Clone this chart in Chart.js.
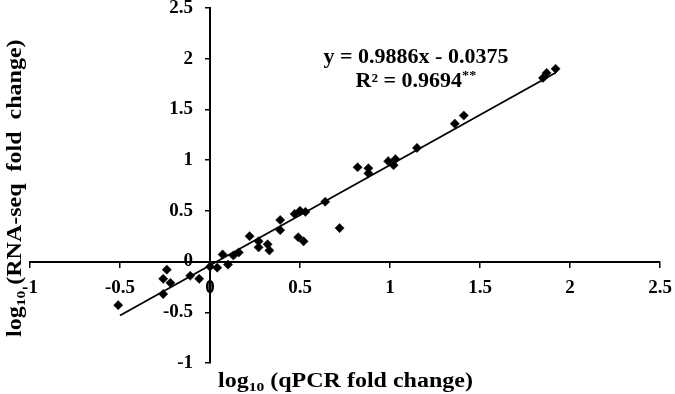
<!DOCTYPE html>
<html lang="en">
<head>
    <meta charset="UTF-8">
    <title>qPCR vs RNA-seq</title>
    <script src="https://cdn.jsdelivr.net/npm/chart.js"></script>
    <style>
        body { margin: 0; background: #fff; }
        #wrap { width: 675px; height: 394px; }
    </style>
</head>
<body>
    <div id="wrap"><canvas id="scatterChart" width="675" height="394"></canvas></div>
    <script>
        // values
        const qpcrX = [-0.51, -0.24, -0.26, -0.22, -0.26, -0.11, -0.06, 0.00, 0.04, 0.10,
                       0.07, 0.13, 0.16, 0.22, 0.27, 0.27, 0.32, 0.33, 0.39, 0.39,
                       0.47, 0.50, 0.53, 0.49, 0.52, 0.64, 0.72, 0.82, 0.88, 0.88,
                       0.99, 1.03, 1.02, 1.15, 1.36, 1.41, 1.85, 1.87, 1.92];
        const rnaseqY = [-0.43, -0.08, -0.17, -0.21, -0.32, -0.14, -0.17, -0.05, -0.06, -0.03,
                         0.07, 0.06, 0.09, 0.25, 0.20, 0.14, 0.17, 0.11, 0.41, 0.31,
                         0.47, 0.50, 0.49, 0.24, 0.20, 0.59, 0.33, 0.93, 0.92, 0.87,
                         0.99, 1.01, 0.95, 1.12, 1.36, 1.44, 1.81, 1.86, 1.90];
        // trendline end points
        const trendX = [-0.5, 1.92];
        const trendY = [-0.532, 1.861];

        const xTickLabels = ['-1', '-0.5', '0', '0.5', '1', '1.5', '2', '2.5'];
        const yTickLabels = ['-1', '-0.5', '0', '0.5', '1', '1.5', '2', '2.5'];

        const FONT = '"Liberation Serif", "Times New Roman", serif';

        // draws a run of text pieces (size, vertical shift) stretched horizontally
        function drawParts(ctx, parts, stretch, align) {
            let total = 0;
            parts.forEach(p => {
                ctx.font = 'bold ' + p.size + 'px ' + FONT;
                total += ctx.measureText(p.text).width;
            });
            ctx.scale(stretch, 1);
            let x = align === 'center' ? -total / 2 : 0;
            parts.forEach(p => {
                ctx.font = 'bold ' + p.size + 'px ' + FONT;
                ctx.fillText(p.text, x, p.dy || 0);
                x += ctx.measureText(p.text).width;
            });
        }

        const labelsPlugin = {
            id: 'labelsPlugin',
            beforeDraw(chart) {
                // y axis sits at x = 0, move its tick labels clear of the line
                const items = chart.scales.y.getLabelItems(chart.chartArea);
                items.forEach(item => {
                    if (!item._moved) {
                        item.options.translation[0] -= 17;
                        item._moved = true;
                    }
                });
            },
            afterDraw(chart) {
                const ctx = chart.ctx;
                ctx.fillStyle = '#000';
                ctx.textBaseline = 'alphabetic';

                // x axis title
                ctx.save();
                ctx.translate(218, 387);
                drawParts(ctx, [
                    {text: 'log', size: 20},
                    {text: '10', size: 13, dy: 4},
                    {text: ' (qPCR fold change)', size: 20}
                ], 1.2, 'left');
                ctx.restore();

                // y axis title
                ctx.save();
                ctx.translate(21, 337);
                ctx.rotate(-Math.PI / 2);
                drawParts(ctx, [
                    {text: 'log', size: 20},
                    {text: '10', size: 13, dy: 4},
                    {text: ' (RNA-seq  fold  change)', size: 20}
                ], 1.2, 'left');
                ctx.restore();

                // regression equation
                ctx.save();
                ctx.translate(416, 63);
                drawParts(ctx, [{text: 'y = 0.9886x - 0.0375', size: 20}], 1.1, 'center');
                ctx.restore();

                ctx.save();
                ctx.translate(416, 87);
                drawParts(ctx, [
                    {text: 'R² = 0.9694', size: 20},
                    {text: '**', size: 13, dy: -8}
                ], 1.1, 'center');
                ctx.restore();
            }
        };

        function noPadding(scale) {
            scale.paddingTop = 0;
            scale.paddingBottom = 0;
            scale.paddingLeft = 0;
            scale.paddingRight = 0;
        }

        const ctx = document.getElementById('scatterChart').getContext('2d');
        new Chart(ctx, {
            type: 'scatter',
            data: {
                datasets: [{
                    label: 'genes',
                    data: qpcrX.map((x, i) => ({x: x, y: rnaseqY[i]})),
                    pointStyle: 'rectRot',
                    pointRadius: 4.6,
                    pointBorderWidth: 0.5,
                    backgroundColor: '#000',
                    borderColor: '#000'
                }, {
                    type: 'line',
                    label: 'trend',
                    data: trendX.map((x, i) => ({x: x, y: trendY[i]})),
                    borderColor: '#000',
                    borderWidth: 1.8,
                    pointRadius: 0,
                    fill: false
                }]
            },
            options: {
                responsive: false,
                animation: false,
                layout: {
                    padding: {left: 30, right: 15, top: 8, bottom: 31}
                },
                scales: {
                    x: {
                        type: 'linear',
                        position: {y: 0},
                        min: -1,
                        max: 2.5,
                        afterFit: noPadding,
                        ticks: {
                            stepSize: 0.5,
                            color: '#000',
                            padding: 10,
                            maxRotation: 0,
                            autoSkip: false,
                            font: {family: FONT, size: 19, weight: 'bold'},
                            callback: function(value, index) {
                                return xTickLabels[index];
                            }
                        },
                        grid: {
                            drawOnChartArea: false,
                            drawTicks: true,
                            tickLength: 5,
                            color: '#000',
                            lineWidth: 1.5
                        },
                        border: {display: true, color: '#000', width: 2}
                    },
                    y: {
                        type: 'linear',
                        position: {x: 0},
                        min: -1,
                        max: 2.5,
                        afterFit: noPadding,
                        ticks: {
                            stepSize: 0.5,
                            color: '#000',
                            padding: 12,
                            autoSkip: false,
                            font: {family: FONT, size: 19, weight: 'bold'},
                            callback: function(value, index) {
                                return yTickLabels[index];
                            }
                        },
                        grid: {
                            drawOnChartArea: false,
                            drawTicks: true,
                            tickLength: 4,
                            color: '#000',
                            lineWidth: 1.5
                        },
                        border: {display: true, color: '#000', width: 2}
                    }
                },
                plugins: {
                    legend: {display: false},
                    tooltip: {enabled: false}
                }
            },
            plugins: [labelsPlugin]
        });
    </script>
</body>
</html>
